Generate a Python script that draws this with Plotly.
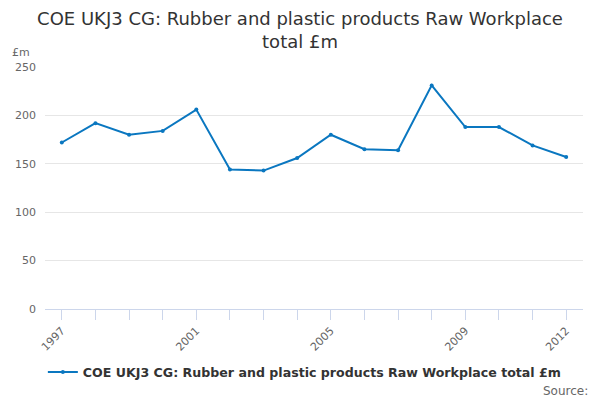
import plotly.graph_objects as go

years = list(range(1997, 2013))
values = [172, 192, 180, 184, 206, 144, 143, 156, 180, 165, 164, 231, 188, 188, 169, 157]
tick_years = [1997, 2001, 2005, 2009, 2012]
series_name = "COE UKJ3 CG: Rubber and plastic products Raw Workplace total £m"
title_text = "COE UKJ3 CG: Rubber and plastic products Raw Workplace<br>total £m"

FONT = "DejaVu Sans"
LINE = "#0a77c0"

fig = go.Figure()
fig.add_trace(go.Scatter(
    x=years, y=values, mode="lines+markers", name=series_name,
    line=dict(color=LINE, width=2), marker=dict(color=LINE, size=4),
))

fig.update_layout(
    width=600, height=400,
    margin=dict(l=45, r=17, t=67, b=89),
    paper_bgcolor="white", plot_bgcolor="white",
    font=dict(family=FONT, color="#666666", size=11),
    title=dict(text=title_text, x=0.5, xanchor="center", y=0.9375, yanchor="top",
               font=dict(family=FONT, size=18, color="#333333")),
    showlegend=True,
    legend=dict(orientation="h", x=0.483, xanchor="center", y=-0.2, yanchor="top",
                itemwidth=30,
                font=dict(family=FONT, size=12.6, color="#333333", weight="bold")),
    xaxis=dict(range=[1996.5, 2012.5], tickmode="array", tickvals=tick_years,
               ticktext=[str(y) for y in tick_years], tickangle=-45,
               showgrid=False, showline=True, linecolor="#ccd6eb", linewidth=1,
               zeroline=False, fixedrange=True),
    yaxis=dict(range=[0, 250], tickvals=[0, 50, 100, 150, 200, 250],
               showgrid=True, gridcolor="#e6e6e6", zeroline=False,
               showline=False, ticks="", ticklabelstandoff=8),
)

fig.update_xaxes(minor=dict(tickmode="array", tickvals=years, ticks="outside",
                            ticklen=10, tickcolor="#ccd6eb", showgrid=False))
fig.update_xaxes(ticks="outside", ticklen=10, tickcolor="#ccd6eb")

fig.add_annotation(text="£m", xref="paper", yref="paper", x=-0.065, y=1.025,
                   xanchor="left", yanchor="bottom", showarrow=False,
                   font=dict(family=FONT, size=11, color="#666666"))
fig.add_annotation(text="Source:", xref="paper", yref="paper", x=1.013, y=-0.3,
                   xanchor="right", yanchor="top", showarrow=False,
                   font=dict(family=FONT, size=12, color="#666666"))

fig.write_html("out.html", config={"displayModeBar": False},
               post_script="document.body.style.margin='0';")
